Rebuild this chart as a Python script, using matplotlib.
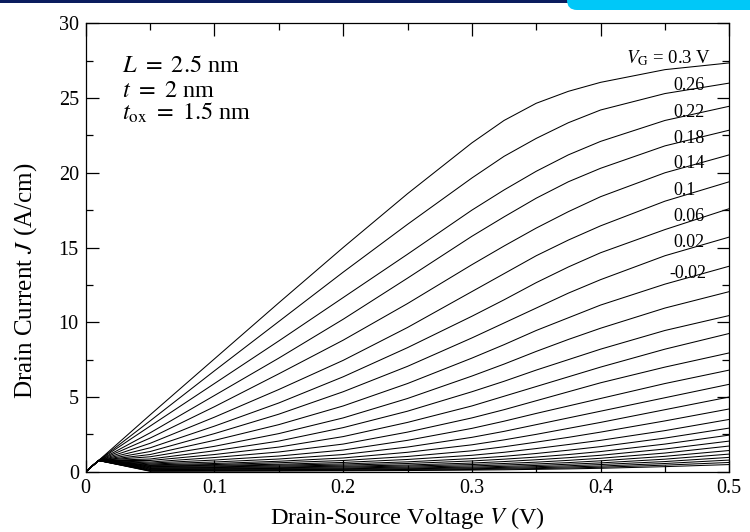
import matplotlib
matplotlib.use("Agg")
import matplotlib.pyplot as plt
from matplotlib.patches import Rectangle, FancyBboxPatch

plt.rcParams['font.family'] = ['Liberation Serif', 'DejaVu Serif']
plt.rcParams['mathtext.fontset'] = 'stix'

# drain-source voltage samples (V)
vds = [0, 0.01, 0.05, 0.1, 0.15, 0.2, 0.25, 0.3, 0.325, 0.35, 0.375, 0.4, 0.45, 0.5]

# drain current J (A/cm), one row per gate voltage, VG = 0.3, 0.26, 0.22, ... (step -0.04)
j_curves = [
    [0, 0.75, 3.8, 7.55, 11.3, 15.0, 18.6, 22.0, 23.5, 24.65, 25.45, 26.05, 26.9, 27.35],
    [0, 0.75, 3.4, 6.75, 10.05, 13.35, 16.55, 19.65, 21.1, 22.3, 23.35, 24.2, 25.3, 26.0],
    [0, 0.75, 3.05, 5.9, 8.75, 11.65, 14.55, 17.5, 18.85, 20.1, 21.2, 22.1, 23.5, 24.45],
    [0, 0.75, 2.6, 5.1, 7.6, 10.2, 12.95, 15.75, 17.05, 18.3, 19.4, 20.3, 21.8, 22.85],
    [0, 0.75, 2.25, 4.35, 6.55, 8.8, 11.25, 13.85, 15.1, 16.3, 17.4, 18.4, 20.0, 21.2],
    [0, 0.75, 1.9, 3.65, 5.5, 7.45, 9.65, 12.05, 13.25, 14.45, 15.5, 16.45, 18.1, 19.4],
    [0, 0.75, 1.6, 3.05, 4.6, 6.35, 8.3, 10.4, 11.5, 12.65, 13.7, 14.65, 16.2, 17.6],
    [0, 0.75, 1.35, 2.55, 3.85, 5.35, 7.05, 8.95, 9.95, 10.95, 11.95, 12.85, 14.45, 15.7],
    [0, 0.75, 1.15, 2.1, 3.15, 4.4, 5.9, 7.6, 8.5, 9.45, 10.3, 11.15, 12.55, 13.75],
    [0, 0.75, 1.0, 1.7, 2.55, 3.6, 4.9, 6.4, 7.2, 8.05, 8.85, 9.6, 10.95, 12.05],
    [0, 0.75, 0.85, 1.4, 2.05, 2.95, 4.05, 5.35, 6.05, 6.8, 7.5, 8.2, 9.45, 10.45],
    [0, 0.75, 0.75, 1.15, 1.65, 2.35, 3.3, 4.4, 5.05, 5.7, 6.35, 7.0, 8.2, 9.25],
    [0, 0.75, 0.65, 0.95, 1.32, 1.85, 2.65, 3.6, 4.15, 4.75, 5.35, 5.95, 7.0, 7.95],
    [0, 0.75, 0.58, 0.78, 1.05, 1.45, 2.1, 2.9, 3.38, 3.9, 4.4, 4.9, 5.9, 6.8],
    [0, 0.75, 0.52, 0.65, 0.85, 1.15, 1.65, 2.3, 2.7, 3.15, 3.6, 4.05, 4.95, 5.85],
    [0, 0.75, 0.46, 0.55, 0.7, 0.92, 1.3, 1.8, 2.13, 2.5, 2.9, 3.3, 4.15, 5.0],
    [0, 0.75, 0.42, 0.48, 0.6, 0.75, 1.02, 1.4, 1.67, 1.98, 2.3, 2.65, 3.4, 4.2],
    [0, 0.75, 0.38, 0.43, 0.5, 0.62, 0.82, 1.1, 1.3, 1.55, 1.82, 2.1, 2.75, 3.5],
    [0, 0.75, 0.34, 0.38, 0.44, 0.52, 0.66, 0.88, 1.03, 1.22, 1.44, 1.68, 2.25, 2.92],
    [0, 0.75, 0.3, 0.33, 0.38, 0.44, 0.55, 0.72, 0.84, 0.98, 1.15, 1.35, 1.85, 2.45],
    [0, 0.75, 0.26, 0.28, 0.32, 0.37, 0.45, 0.58, 0.68, 0.8, 0.94, 1.1, 1.52, 2.05],
    [0, 0.75, 0.22, 0.24, 0.27, 0.31, 0.38, 0.48, 0.55, 0.64, 0.76, 0.9, 1.25, 1.72],
    [0, 0.75, 0.18, 0.2, 0.22, 0.25, 0.31, 0.39, 0.45, 0.52, 0.61, 0.73, 1.03, 1.42],
    [0, 0.75, 0.14, 0.16, 0.18, 0.2, 0.25, 0.31, 0.36, 0.42, 0.5, 0.59, 0.84, 1.18],
    [0, 0.75, 0.1, 0.12, 0.14, 0.16, 0.2, 0.25, 0.29, 0.34, 0.4, 0.48, 0.68, 0.96],
    [0, 0.75, 0.07, 0.09, 0.1, 0.12, 0.15, 0.2, 0.23, 0.27, 0.32, 0.38, 0.55, 0.78],
    [0, 0.75, 0.05, 0.06, 0.07, 0.09, 0.11, 0.15, 0.18, 0.21, 0.25, 0.3, 0.44, 0.62],
    [0, 0.75, 0.03, 0.04, 0.05, 0.06, 0.08, 0.11, 0.13, 0.16, 0.19, 0.23, 0.34, 0.48],
]

# curve labels: text, x, baseline y
vg_labels = ['0.26', '0.22', '0.18', '0.14', '0.1', '0.06', '0.02', '-0.02']
vg_label_x = [0.4564, 0.4564, 0.4564, 0.4564, 0.4564, 0.4564, 0.4564, 0.4535]
vg_label_y = [25.53, 23.75, 21.97, 20.29, 18.51, 16.77, 15.05, 12.94]

fig = plt.figure(figsize=(7.5, 5.32), dpi=100)

# slide decoration at top
fig.patches.append(Rectangle((0, 1 - 3 / 532), 1, 3 / 532, transform=fig.transFigure,
                             facecolor='#0b1d5e', edgecolor='none'))
fig.patches.append(FancyBboxPatch((5.67, 5.22), 2.2, 0.4, boxstyle='round,pad=0,rounding_size=0.1',
                                  transform=fig.dpi_scale_trans, facecolor='#00c8f8',
                                  edgecolor='none'))

ax = fig.add_axes([0.1143, 0.1133, 0.8581, 0.8429])

for j in j_curves:
    ax.plot(vds, j, color='black', lw=0.75)

ax.text(0.4195, 27.32, r'$V_{\mathrm{G}}$ = 0.3 V', fontsize=13.5)
for lab, x, y in zip(vg_labels, vg_label_x, vg_label_y):
    ax.text(x, y, lab, fontsize=13)

ax.text(0.0283, 26.76, r'$L\ =\ 2.5$ nm', fontsize=17.5)
ax.text(0.0283, 25.08, r'$t\ =\ 2$ nm', fontsize=17.5)
ax.text(0.0283, 23.52, r'$t_{\mathrm{ox}}\ =\ 1.5$ nm', fontsize=17.5)

ax.set_xlim(0, 0.5)
ax.set_ylim(0, 30)
ax.set_xticks([0, 0.1, 0.2, 0.3, 0.4, 0.5])
ax.set_xticklabels(['0', '0.1', '0.2', '0.3', '0.4', '0.5'])
ax.set_xticks([0.05, 0.15, 0.25, 0.35, 0.45], minor=True)
ax.set_yticks([0, 5, 10, 15, 20, 25, 30])
ax.set_yticks([2.5, 7.5, 12.5, 17.5, 22.5, 27.5], minor=True)
ax.tick_params(which='both', direction='in', top=True, right=True, labelsize=14.5, width=0.9, pad=5)
ax.tick_params(which='major', length=9)
ax.tick_params(which='minor', length=5)
for s in ax.spines.values():
    s.set_linewidth(0.9)

ax.set_xlabel('Drain-Source Voltage $V$ (V)', fontsize=17.5)
ax.set_ylabel('Drain Current $J$ (A/cm)', fontsize=18)
ax.xaxis.set_label_coords(0.5, -0.074)
ax.yaxis.set_label_coords(-0.072, 0.425)

fig.savefig('out.png', dpi=100)
